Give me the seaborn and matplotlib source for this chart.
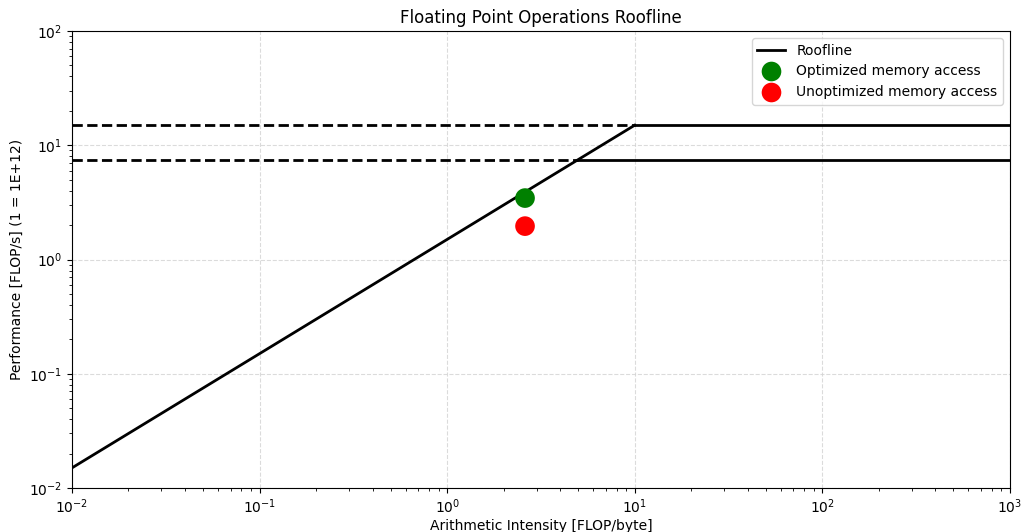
import matplotlib
matplotlib.use("Agg")
import matplotlib.pyplot as plt
import numpy as np
import pandas as pd
import seaborn as sns

# roofline parameters
bandwidth = 1.5          # TFLOP/s per FLOP/byte
peaks = [15.0, 7.5]      # compute ceilings
x_min, x_max = 1e-2, 1e3

# measured kernels
kernels = ["Optimized memory access", "Unoptimized memory access"]
kernel_ai = [2.6, 2.6]
kernel_perf = [3.45, 1.96]
kernel_colors = ["green", "red"]

# plain matplotlib look, seaborn only for drawing
plt.rcParams["font.family"] = ["DejaVu Sans"]

fig = plt.figure(figsize=(10.24, 5.32), dpi=100)
ax = fig.add_axes([0.0703, 0.0827, 0.9160, 0.8590])

ridge_top = peaks[0] / bandwidth
slope = pd.DataFrame({"x": [x_min, ridge_top], "y": [bandwidth * x_min, peaks[0]]})
sns.lineplot(data=slope, x="x", y="y", ax=ax, color="black", lw=2, label="Roofline")

for p in peaks:
    ridge = p / bandwidth
    flat = pd.DataFrame({"x": [ridge, x_max], "y": [p, p]})
    sns.lineplot(data=flat, x="x", y="y", ax=ax, color="black", lw=2)
    dash = pd.DataFrame({"x": [x_min, ridge], "y": [p, p]})
    sns.lineplot(data=dash, x="x", y="y", ax=ax, color="black", lw=2, linestyle="--")

pts = pd.DataFrame({"ai": kernel_ai, "perf": kernel_perf, "kernel": kernels})
sns.scatterplot(data=pts, x="ai", y="perf", hue="kernel", palette=kernel_colors,
                s=200, edgecolor="none", ax=ax, zorder=3)

ax.set_xscale("log")
ax.set_yscale("log")
ax.set_xlim(x_min, x_max)
ax.set_ylim(1e-2, 1e2)
ax.grid(True, which="major", linestyle="--", color="lightgray", alpha=0.8)
ax.set_axisbelow(True)
ax.set_xlabel("Arithmetic Intensity [FLOP/byte]", labelpad=2)
ax.set_ylabel("Performance [FLOP/s] (1 = 1E+12)")
ax.set_title("Floating Point Operations Roofline")

ax.legend(loc="upper right", title=None)

fig.savefig("out.png", dpi=100)
